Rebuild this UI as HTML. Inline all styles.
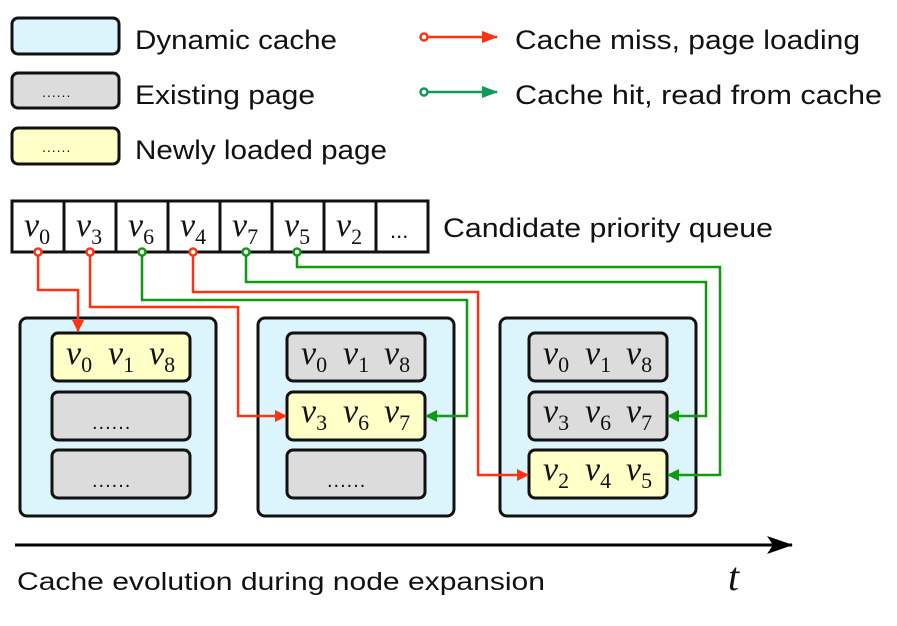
<!DOCTYPE html>
<html><head><meta charset="utf-8"><style>
html,body{margin:0;padding:0;background:#fff;}
svg{display:block;}
.t{font-family:"Liberation Sans",sans-serif;font-size:27px;fill:#111;}
.m{font-family:"Liberation Serif",serif;font-style:italic;font-size:34px;fill:#111;}
.s{font-family:"Liberation Serif",serif;font-style:normal;font-size:22px;}
</style></head><body>
<svg width="897" height="626" viewBox="0 0 897 626" xmlns="http://www.w3.org/2000/svg">
<defs>
<marker id="ar" markerWidth="12" markerHeight="12" refX="11" refY="6" orient="auto" markerUnits="userSpaceOnUse" viewBox="0 0 12 12"><path d="M0,0 L12,6 L0,12z" fill="#ff3311"/></marker>
<marker id="ag" markerWidth="12" markerHeight="12" refX="11" refY="6" orient="auto" markerUnits="userSpaceOnUse" viewBox="0 0 12 12"><path d="M0,0 L12,6 L0,12z" fill="#119911"/></marker>
<marker id="ag2" markerWidth="16" markerHeight="12" refX="15" refY="6" orient="auto" markerUnits="userSpaceOnUse" viewBox="0 0 16 12"><path d="M0,0 L16,6 L0,12z" fill="#119955"/></marker>
<marker id="ar2" markerWidth="16" markerHeight="12" refX="15" refY="6" orient="auto" markerUnits="userSpaceOnUse" viewBox="0 0 16 12"><path d="M0,0 L16,6 L0,12z" fill="#ff3311"/></marker>
<marker id="ak" markerWidth="26" markerHeight="18" refX="25" refY="9" orient="auto" markerUnits="userSpaceOnUse" viewBox="0 0 26 18"><path d="M0,0 L26,9 L0,18 L6,9z" fill="#000"/></marker>
</defs>
<rect x="12" y="18" width="107" height="36" rx="6" fill="#dcf4fb" stroke="#111" stroke-width="3"/>
<rect x="12" y="73" width="107" height="35" rx="6" fill="#dcdcdc" stroke="#111" stroke-width="3"/>
<rect x="12" y="128" width="107" height="36" rx="6" fill="#ffffc8" stroke="#111" stroke-width="3"/>
<text x="42" y="97" class="t" style="font-size:14px;letter-spacing:1px">......</text>
<text x="42" y="152" class="t" style="font-size:14px;letter-spacing:1px">......</text>
<text x="135" y="49" class="t" textLength="202" lengthAdjust="spacingAndGlyphs">Dynamic cache</text>
<text x="135" y="104" class="t" textLength="180" lengthAdjust="spacingAndGlyphs">Existing page</text>
<text x="135" y="159" class="t" textLength="252" lengthAdjust="spacingAndGlyphs">Newly loaded page</text>
<line x1="427" y1="37" x2="497" y2="37" stroke="#ff3311" stroke-width="2.5" marker-end="url(#ar2)"/>
<circle cx="424" cy="37" r="3.5" fill="#fff" stroke="#ff3311" stroke-width="2.5"/>
<line x1="427" y1="92" x2="497" y2="92" stroke="#119955" stroke-width="2.5" marker-end="url(#ag2)"/>
<circle cx="424" cy="92" r="3.5" fill="#fff" stroke="#119955" stroke-width="2.5"/>
<text x="515" y="49" class="t" textLength="345" lengthAdjust="spacingAndGlyphs">Cache miss, page loading</text>
<text x="515" y="104" class="t" textLength="367" lengthAdjust="spacingAndGlyphs">Cache hit, read from cache</text>
<rect x="12" y="201" width="416" height="51" fill="#fff" stroke="#111" stroke-width="3"/>
<g stroke="#111" stroke-width="3">
<line x1="64" y1="201" x2="64" y2="252"/><line x1="116" y1="201" x2="116" y2="252"/><line x1="168" y1="201" x2="168" y2="252"/><line x1="220" y1="201" x2="220" y2="252"/><line x1="272" y1="201" x2="272" y2="252"/><line x1="324" y1="201" x2="324" y2="252"/><line x1="376" y1="201" x2="376" y2="252"/>
</g>
<text class="m" y="236"><tspan x="24">v</tspan><tspan class="s" dy="8">0</tspan></text>
<text class="m" y="236"><tspan x="76">v</tspan><tspan class="s" dy="8">3</tspan></text>
<text class="m" y="236"><tspan x="128">v</tspan><tspan class="s" dy="8">6</tspan></text>
<text class="m" y="236"><tspan x="180">v</tspan><tspan class="s" dy="8">4</tspan></text>
<text class="m" y="236"><tspan x="232">v</tspan><tspan class="s" dy="8">7</tspan></text>
<text class="m" y="236"><tspan x="284">v</tspan><tspan class="s" dy="8">5</tspan></text>
<text class="m" y="236"><tspan x="336">v</tspan><tspan class="s" dy="8">2</tspan></text>
<text x="390" y="238" class="t" style="font-size:22px">...</text>
<text x="443" y="237" class="t" textLength="330" lengthAdjust="spacingAndGlyphs">Candidate priority queue</text>
<g stroke="#111" stroke-width="3">
<rect x="20" y="318" width="196" height="198" rx="7" fill="#dcf4fb"/>
<rect x="258" y="318" width="196" height="198" rx="7" fill="#dcf4fb"/>
<rect x="500" y="318" width="196" height="198" rx="7" fill="#dcf4fb"/>
<rect x="52" y="333" width="138" height="48" rx="6" fill="#ffffc8"/>
<rect x="52" y="392" width="138" height="48" rx="6" fill="#dcdcdc"/>
<rect x="52" y="450" width="138" height="48" rx="6" fill="#dcdcdc"/>
<rect x="287" y="333" width="138" height="48" rx="6" fill="#dcdcdc"/>
<rect x="287" y="392" width="138" height="48" rx="6" fill="#ffffc8"/>
<rect x="287" y="450" width="138" height="48" rx="6" fill="#dcdcdc"/>
<rect x="529" y="333" width="138" height="48" rx="6" fill="#dcdcdc"/>
<rect x="529" y="392" width="138" height="48" rx="6" fill="#dcdcdc"/>
<rect x="529" y="450" width="138" height="48" rx="6" fill="#ffffc8"/>
</g>
<g class="m">
<text y="364"><tspan x="66">v</tspan><tspan class="s" dy="8">0</tspan><tspan x="108" dy="-8">v</tspan><tspan class="s" dy="8">1</tspan><tspan x="149" dy="-8">v</tspan><tspan class="s" dy="8">8</tspan></text>
<text y="364"><tspan x="301">v</tspan><tspan class="s" dy="8">0</tspan><tspan x="343" dy="-8">v</tspan><tspan class="s" dy="8">1</tspan><tspan x="384" dy="-8">v</tspan><tspan class="s" dy="8">8</tspan></text>
<text y="364"><tspan x="543">v</tspan><tspan class="s" dy="8">0</tspan><tspan x="585" dy="-8">v</tspan><tspan class="s" dy="8">1</tspan><tspan x="626" dy="-8">v</tspan><tspan class="s" dy="8">8</tspan></text>
<text y="422"><tspan x="301">v</tspan><tspan class="s" dy="8">3</tspan><tspan x="343" dy="-8">v</tspan><tspan class="s" dy="8">6</tspan><tspan x="384" dy="-8">v</tspan><tspan class="s" dy="8">7</tspan></text>
<text y="422"><tspan x="543">v</tspan><tspan class="s" dy="8">3</tspan><tspan x="585" dy="-8">v</tspan><tspan class="s" dy="8">6</tspan><tspan x="626" dy="-8">v</tspan><tspan class="s" dy="8">7</tspan></text>
<text y="480"><tspan x="543">v</tspan><tspan class="s" dy="8">2</tspan><tspan x="585" dy="-8">v</tspan><tspan class="s" dy="8">4</tspan><tspan x="626" dy="-8">v</tspan><tspan class="s" dy="8">5</tspan></text>
</g>
<text x="92" y="429" class="t" style="font-size:20px;letter-spacing:1px">......</text>
<text x="92" y="487" class="t" style="font-size:20px;letter-spacing:1px">......</text>
<text x="327" y="487" class="t" style="font-size:20px;letter-spacing:1px">......</text>
<g fill="none" stroke-width="2.5">
<polyline points="38,255 38,290 78,290 78,331" stroke="#ff3311" marker-end="url(#ar)"/>
<polyline points="90,255 90,307 238,307 238,416 286,416" stroke="#ff3311" marker-end="url(#ar)"/>
<polyline points="142,255 142,300 467,300 467,416 426,416" stroke="#119911" marker-end="url(#ag)"/>
<polyline points="193,255 193,292 478,292 478,475 528,475" stroke="#ff3311" marker-end="url(#ar)"/>
<polyline points="246,255 246,282 706,282 706,416 668,416" stroke="#119911" marker-end="url(#ag)"/>
<polyline points="297,255 297,267 720,267 720,475 668,475" stroke="#119911" marker-end="url(#ag)"/>
</g>
<g fill="#fff" stroke-width="2.5">
<circle cx="38" cy="252" r="3.5" stroke="#ff3311"/>
<circle cx="90" cy="252" r="3.5" stroke="#ff3311"/>
<circle cx="142" cy="252" r="3.5" stroke="#119911"/>
<circle cx="193" cy="252" r="3.5" stroke="#ff3311"/>
<circle cx="246" cy="252" r="3.5" stroke="#119911"/>
<circle cx="297" cy="252" r="3.5" stroke="#119911"/>
</g>
<line x1="15" y1="545" x2="792" y2="545" stroke="#000" stroke-width="3" marker-end="url(#ak)"/>
<text x="17" y="590" class="t" style="font-size:25px" textLength="528" lengthAdjust="spacingAndGlyphs">Cache evolution during node expansion</text>
<text x="728" y="590" class="m" style="font-size:40px">t</text>
</svg>
</body></html>
